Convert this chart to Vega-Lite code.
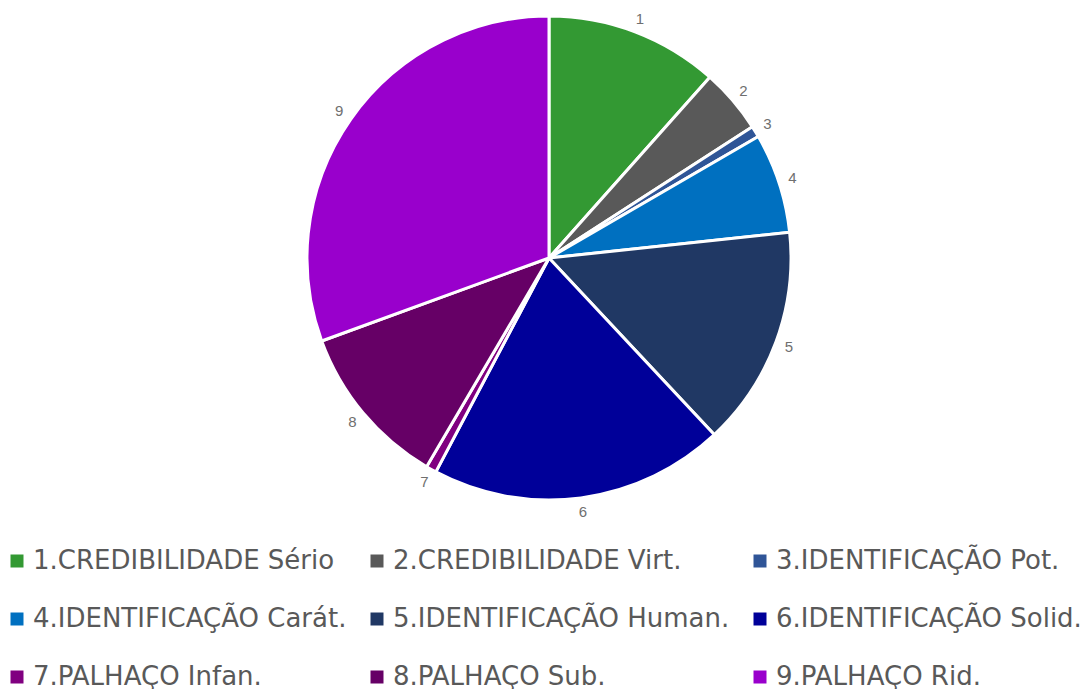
{
  "$schema": "https://vega.github.io/schema/vega-lite/v6.json",
  "width": 1090,
  "height": 516,
  "padding": {"left": 4, "top": 0, "right": 0, "bottom": 0},
  "background": "white",
  "config": {"view": {"stroke": null}},
  "data": {
    "values": [
      {"id": 1, "lab": "1", "cat": "1.CREDIBILIDADE Sério", "v": 41.6},
      {"id": 2, "lab": "2", "cat": "2.CREDIBILIDADE Virt.", "v": 15.5},
      {"id": 3, "lab": "3", "cat": "3.IDENTIFICAÇÃO Pot.", "v": 2.7},
      {"id": 4, "lab": "4", "cat": "4.IDENTIFICAÇÃO Carát.", "v": 24.0},
      {"id": 5, "lab": "5", "cat": "5.IDENTIFICAÇÃO Human.", "v": 52.9},
      {"id": 6, "lab": "6", "cat": "6.IDENTIFICAÇÃO Solid.", "v": 70.9},
      {"id": 7, "lab": "7", "cat": "7.PALHAÇO Infan.", "v": 2.5},
      {"id": 8, "lab": "8", "cat": "8.PALHAÇO Sub.", "v": 39.5},
      {"id": 9, "lab": "9", "cat": "9.PALHAÇO Rid.", "v": 109.9}
    ]
  },
  "encoding": {
    "theta": {"field": "v", "type": "quantitative", "stack": true},
    "order": {"field": "id", "type": "quantitative"}
  },
  "layer": [
    {
      "mark": {"type": "arc", "outerRadius": 242, "stroke": "white", "strokeWidth": 3},
      "encoding": {
        "color": {
          "field": "cat",
          "type": "nominal",
          "scale": {
            "domain": ["1.CREDIBILIDADE Sério", "2.CREDIBILIDADE Virt.", "3.IDENTIFICAÇÃO Pot.", "4.IDENTIFICAÇÃO Carát.", "5.IDENTIFICAÇÃO Human.", "6.IDENTIFICAÇÃO Solid.", "7.PALHAÇO Infan.", "8.PALHAÇO Sub.", "9.PALHAÇO Rid."],
            "range": ["#339933", "#595959", "#2F5597", "#0070C0", "#203864", "#000099", "#800080", "#660066", "#9900CC"]
          },
          "legend": {
            "title": null,
            "orient": "none",
            "legendX": 0,
            "legendY": 548,
            "columns": 3,
            "direction": "horizontal",
            "symbolType": "square",
            "symbolSize": 169,
            "symbolStrokeWidth": 0,
            "labelFont": "DejaVu Sans",
            "labelFontSize": 26,
            "labelColor": "#595959",
            "labelLimit": 0,
            "labelOffset": 3,
            "columnPadding": 17,
            "rowPadding": 32
          }
        }
      }
    },
    {
      "mark": {"type": "text", "radius": 256, "font": "Liberation Sans", "fontSize": 15, "fill": "#6f6f6f"},
      "encoding": {"text": {"field": "lab"}}
    }
  ]
}
